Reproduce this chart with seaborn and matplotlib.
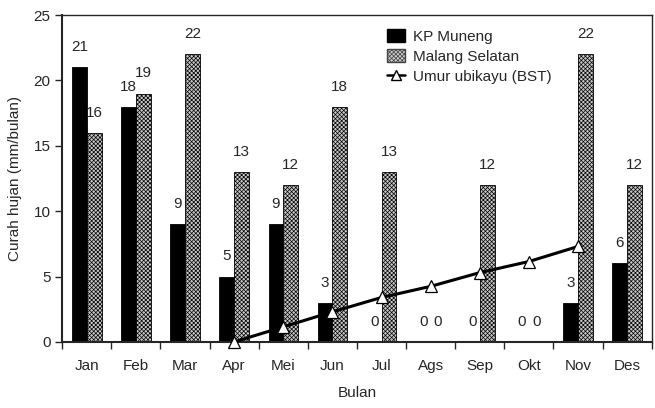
import numpy as np
import pandas as pd
import matplotlib
matplotlib.use("Agg")
import matplotlib.pyplot as plt
import seaborn as sns
from matplotlib.patches import Patch
from matplotlib.lines import Line2D

bulan = ['Jan', 'Feb', 'Mar', 'Apr', 'Mei', 'Jun', 'Jul', 'Ags', 'Sep', 'Okt', 'Nov', 'Des']
kp_muneng = [21, 18, 9, 5, 9, 3, 0, 0, 0, 0, 3, 6]
malang_selatan = [16, 19, 22, 13, 12, 18, 13, 0, 12, 0, 22, 12]
# umur ubikayu (BST) dari April s/d November
bulan_ubi = ['Apr', 'Mei', 'Jun', 'Jul', 'Ags', 'Sep', 'Okt', 'Nov']
umur_ubi = [0.0, 1.15, 2.3, 3.4, 4.25, 5.3, 6.15, 7.3]

sns.set_style('ticks')
plt.rcParams['font.family'] = ['Liberation Sans', 'DejaVu Sans']
plt.rcParams['hatch.color'] = '#444444'
plt.rcParams['hatch.linewidth'] = 0.5

df = pd.DataFrame({
    'Bulan': bulan * 2,
    'Curah': kp_muneng + malang_selatan,
    'Lokasi': ['KP Muneng'] * 12 + ['Malang Selatan'] * 12,
})

fs = 11

fig, ax = plt.subplots(figsize=(6.55, 4.08), dpi=100)
fig.subplots_adjust(left=0.095, right=0.995, bottom=0.162, top=0.963)

sns.barplot(data=df, x='Bulan', y='Curah', hue='Lokasi', order=bulan,
            palette=['black', 'white'], width=0.6, gap=0, dodge=True,
            edgecolor='black', linewidth=0.6, legend=False, ax=ax)

n = len(bulan)
bars = ax.patches
for p in bars[n:2 * n]:
    p.set_facecolor('#c8c8c8')
    p.set_hatch('xxxxxxxx')

# label nilai di atas batang
for p, v in zip(bars[:n], kp_muneng):
    ax.text(p.get_x() + p.get_width() / 2, v + 1.0, str(v), ha='center', va='bottom', fontsize=fs)
for p, v in zip(bars[n:2 * n], malang_selatan):
    ax.text(p.get_x() + p.get_width() / 2, v + 1.0, str(v), ha='center', va='bottom', fontsize=fs)

x_ubi = [bulan.index(b) for b in bulan_ubi]
sns.lineplot(x=x_ubi, y=umur_ubi, color='black', linewidth=2.2, marker='^',
             markersize=9, markerfacecolor='white', markeredgecolor='black',
             markeredgewidth=0.9, ax=ax, clip_on=False, zorder=5)

ax.set_xlim(-0.5, n - 0.5)
ax.set_ylim(0, 25)
ax.set_yticks([0, 5, 10, 15, 20, 25])
ax.set_xticks(np.arange(n))
ax.set_xticklabels(bulan)
ax.set_xticks(np.arange(n + 1) - 0.5, minor=True)
ax.tick_params(axis='x', which='major', length=0, pad=12, labelsize=fs)
ax.tick_params(axis='x', which='minor', length=5, width=1, direction='out')
ax.tick_params(axis='y', length=5, width=1, labelsize=fs)
for s in ax.spines.values():
    s.set_visible(True)
    s.set_linewidth(1)
ax.spines['bottom'].set_linewidth(1.5)
ax.spines['left'].set_linewidth(1.5)

ax.set_xlabel('Bulan', fontsize=fs, labelpad=10)
ax.set_ylabel('Curah hujan (mm/bulan)', fontsize=fs, labelpad=8)

handles = [
    Patch(facecolor='black', edgecolor='black', label='KP Muneng'),
    Patch(facecolor='#c8c8c8', edgecolor='#444444', hatch='xxxxxxxx', label='Malang Selatan'),
    Line2D([0], [0], color='black', linewidth=1.8, marker='^', markersize=7,
           markerfacecolor='white', markeredgecolor='black', label='Umur ubikayu (BST)'),
]
leg = ax.legend(handles=handles, loc='upper left', bbox_to_anchor=(0.54, 0.975),
                frameon=False, fontsize=fs, handlelength=1.2, handleheight=0.9,
                handletextpad=0.5, labelspacing=0.35, borderaxespad=0)

fig.savefig('out.png', dpi=100)
